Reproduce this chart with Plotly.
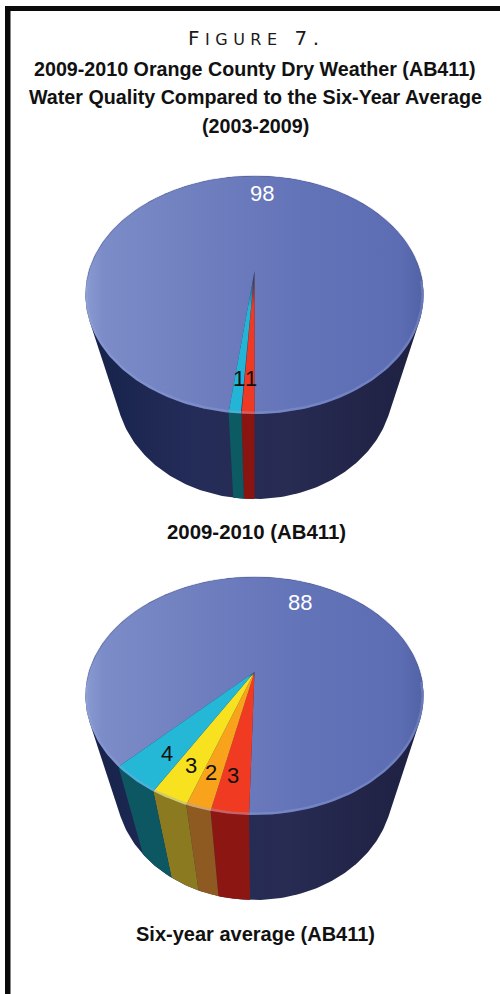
import numpy as np
import plotly.graph_objects as go

# Pie values, listed clockwise from the front of each drum
current_values = [1, 1, 98]
current_top_colors = ["#ee3a24", "#22b5d5", None]
current_side_colors = ["#8a1410", "#0c5a62", None]
current_labels = ["1", "1", "98"]
average_values = [3, 2, 3, 4, 88]
average_top_colors = ["#f03a22", "#f9a31c", "#f8e21f", "#25b7d6", None]
average_side_colors = ["#8c1712", "#8f5a22", "#8c7a20", "#0d5763", None]
average_labels = ["3", "2", "3", "4", "88"]

title_lines = [
    "2009-2010 Orange County Dry Weather (AB411)",
    "Water Quality Compared to the Six-Year Average",
    "(2003-2009)",
]
current_caption = "2009-2010 (AB411)"
average_caption = "Six-year average (AB411)"

CX = 254.5
TOP_A, TOP_B = 165.6, 114.2
BOT_A, BOT_B = 135.8, 108.0
TILT = 0.2017
BOT_FRONT_DROP = 85
FRONT_TO_HUB = TOP_B / (1 - TILT)

FACE_SCALE = [[0, "#8a9bd2"], [0.05, "#7c8cc8"], [0.35, "#6f7ebe"],
              [0.65, "#6373b8"], [0.93, "#5c6db3"], [1, "#5162a6"]]
BODY_SCALE = [[0, "#16224a"], [0.3, "#232c58"], [0.6, "#282b52"], [1, "#1d2040"]]


def project(theta, hub_y, a, b):
    """Perspective view of a disc; theta runs clockwise from the front point."""
    px = -np.sin(theta)
    py = np.cos(theta)
    s = 1 / (1 - TILT * py)
    return CX + a * px * s, hub_y + b * py * s


def hull(points):
    pts = sorted(set(points))

    def half(seq):
        out = []
        for p in seq:
            while len(out) > 1 and ((out[-1][0] - out[-2][0]) * (p[1] - out[-2][1])
                                    - (out[-1][1] - out[-2][1]) * (p[0] - out[-2][0])) <= 0:
                out.pop()
            out.append(p)
        return out[:-1]

    return half(pts) + half(pts[::-1])


def polygon(x, y, **style):
    return go.Scatter(x=list(x), y=list(y), mode="lines", fill="toself", line=dict(width=0),
                      hoverinfo="skip", showlegend=False, **style)


def drum(fig, front_y, values, top_colors, side_colors, start_deg, fade_px):
    hub = front_y - FRONT_TO_HUB
    bot_front = front_y + BOT_FRONT_DROP
    bot_hub = bot_front - BOT_B / (1 - TILT)
    ring = np.linspace(0, 2 * np.pi, 361)
    tx, ty = project(ring, hub, TOP_A, TOP_B)
    bx, by = project(ring, bot_hub, BOT_A, BOT_B)

    # Body silhouette
    outline = hull(list(zip(np.round(tx, 2), np.round(ty, 2))) + list(zip(np.round(bx, 2), np.round(by, 2))))
    ox, oy = zip(*outline)
    fig.add_trace(polygon(ox + ox[:1], oy + oy[:1],
                          fillgradient=dict(type="horizontal", colorscale=BODY_SCALE,
                                            start=CX - 170, stop=CX + 170)))

    edges = np.radians(start_deg) + np.cumsum([0] + list(values)) / sum(values) * 2 * np.pi

    # Coloured bands down the side
    for i, col in enumerate(side_colors):
        if col is None:
            continue
        t = np.linspace(edges[i], edges[i + 1], 24)
        x1, y1 = project(t, hub, TOP_A, TOP_B)
        x2, y2 = project(t[::-1], bot_hub, BOT_A, BOT_B)
        fig.add_trace(polygon(np.r_[x1, x2, x1[0]], np.r_[y1, y2, y1[0]], fillcolor=col))

    # Top face: the large slice first, then the small wedges over it
    for i, col in enumerate(top_colors):
        if col is not None:
            continue
        t = np.linspace(edges[i], edges[i + 1], 360)
        x1, y1 = project(t, hub, TOP_A, TOP_B)
        fig.add_trace(polygon(np.r_[CX, x1, CX], np.r_[hub, y1, hub],
                              fillgradient=dict(type="horizontal", colorscale=FACE_SCALE,
                                                start=CX - 169, stop=CX + 169)))
    for i, col in enumerate(top_colors):
        if col is None:
            continue
        t = np.linspace(edges[i], edges[i + 1], 24)
        x1, y1 = project(t, hub, TOP_A, TOP_B)
        r, g, b = (int(col[k:k + 2], 16) for k in (1, 3, 5))
        stop = fade_px / (front_y - hub)
        scale = [[0, f"rgba({r},{g},{b},0)"], [stop, f"rgba({r},{g},{b},1)"], [1, f"rgba({r},{g},{b},1)"]]
        fig.add_trace(polygon(np.r_[CX, x1, CX], np.r_[hub, y1, hub],
                              fillgradient=dict(type="vertical", colorscale=scale, start=hub, stop=front_y)))

    # Soft bevel along the rim of the top face
    front = np.radians(np.linspace(-85, 85, 120))
    back = np.radians(np.linspace(85, 275, 160))
    rx, ry = project(front, hub, TOP_A - 1, TOP_B - 1)
    fig.add_trace(go.Scatter(x=rx, y=ry, mode="lines", hoverinfo="skip", showlegend=False,
                             line=dict(color="rgba(150,165,220,0.35)", width=2.5)))
    rx, ry = project(back, hub, TOP_A, TOP_B)
    fig.add_trace(go.Scatter(x=rx, y=ry, mode="lines", hoverinfo="skip", showlegend=False,
                             line=dict(color="rgba(90,102,165,0.3)", width=1.5)))


fig = go.Figure()
drum(fig, 414, current_values, current_top_colors, current_side_colors, 0, 36)
drum(fig, 815, average_values, average_top_colors, average_side_colors, 1.5, 5)

TEXT = "Liberation Sans Narrow, Liberation Sans, sans-serif"


def note(x, y, text, size=22, color="#111111", family="Liberation Sans", bold=False):
    fig.add_annotation(x=x, y=y, text=f"<b>{text}</b>" if bold else text, showarrow=False,
                       xanchor="center", yanchor="middle", xref="x", yref="y",
                       font=dict(size=size, color=color, family=family))


note(256, 38, '<span style="letter-spacing:5.5px">F<span style="font-size:16px">IGURE</span> 7.</span>',
     size=20, color="#1a1a1a", family="DejaVu Sans")
for y, line in zip((69, 97, 126), title_lines):
    note(255, y, line, size=19.7, family=TEXT, bold=True)
note(256, 532, current_caption, size=20.4, family=TEXT, bold=True)
note(255, 934, average_caption, size=20, family=TEXT, bold=True)

# Value labels
note(262, 193, current_labels[2], color="#ffffff")
note(239, 378, current_labels[1])
note(251, 378, current_labels[0])
note(300, 602, average_labels[4], color="#ffffff")
note(167, 753, average_labels[3])
note(191, 765, average_labels[2])
note(211, 772, average_labels[1])
note(233, 775, average_labels[0])

# Heavy page frame along the top and left
frame = dict(type="rect", xref="x", yref="y", fillcolor="#0a0a0a", line_width=0, layer="above")
fig.add_shape(x0=5, x1=500, y0=6, y1=11, **frame)
fig.add_shape(x0=5, x1=10.5, y0=6, y1=994, **frame)

fig.update_layout(
    width=500, height=994, margin=dict(l=0, r=0, t=0, b=0, pad=0),
    paper_bgcolor="white", plot_bgcolor="white", showlegend=False,
    xaxis=dict(range=[0, 500], visible=False, fixedrange=True),
    yaxis=dict(range=[994, 0], visible=False, fixedrange=True),
)
fig.write_html("out.html", config={"displayModeBar": False})
